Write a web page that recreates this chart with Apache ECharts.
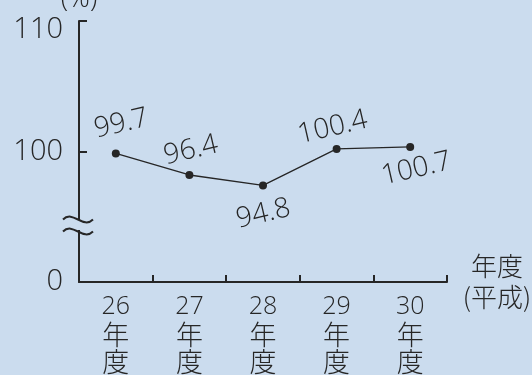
<!DOCTYPE html>
<html><head><meta charset="utf-8">
<script src="https://cdn.jsdelivr.net/npm/echarts@6/dist/echarts.min.js"></script>
<style>html,body{margin:0;padding:0;background:#cbdcee;} #c{width:532px;height:375px;}</style>
</head><body><div id="c"></div>
<script>
// ---- data ----
const categories = ['26年度', '27年度', '28年度', '29年度', '30年度'];
const values = [99.7, 96.4, 94.8, 100.4, 100.7];
const yTickLabels = ['0', '100', '110'];
const xAxisName = '年度\n(平成)';
const yAxisName = '(%)';

// ---- style ----
const BG = '#cbdcee';
const INK = '#262626';
const FONT = '"Open Sans", "Noto Sans CJK JP", sans-serif';
const CJK = '"Noto Sans CJK JP", sans-serif';
const labelPlace = [
  { position: 'top', offset: [10, -5] },
  { position: 'top', offset: [5, -1] },
  { position: 'bottom', offset: [-4, 5] },
  { position: 'top', offset: [-1, 1] },
  { position: 'bottom', offset: [3, 0] }
];

const chart = echarts.init(document.getElementById('c'), null, { renderer: 'canvas' });
const seriesData = values.map((v, i) => ({
  value: v,
  label: { position: labelPlace[i].position, offset: labelPlace[i].offset }
}));

chart.setOption({
  backgroundColor: BG,
  animation: false,
  grid: { left: 79, right: 85, top: 21, bottom: 93, containLabel: false, outerBoundsMode: 'none' },
  xAxis: {
    type: 'category',
    data: categories,
    boundaryGap: true,
    axisLine: { lineStyle: { color: INK, width: 2 } },
    axisTick: { show: true, inside: true, length: 7, interval: 0, lineStyle: { color: INK, width: 2 } },
    axisLabel: {
      interval: 0, margin: 11, color: INK, lineHeight: 27.5,
      formatter: s => '{n|' + s.slice(0, 2) + '}\n{c|' + s.slice(2, 3) + '}\n{c|' + s.slice(3) + '}',
      rich: {
        n: { fontSize: 25, fontFamily: FONT, fontWeight: 300, color: INK, lineHeight: 27.5 },
        c: { fontSize: 27, fontFamily: CJK, fontWeight: 300, color: INK, lineHeight: 27.5 }
      }
    },
    splitLine: { show: false },
    name: xAxisName,
    nameLocation: 'end',
    nameGap: 50,
    nameMoveOverlap: false,
    nameTextStyle: { color: INK, fontSize: 26, fontWeight: 300, lineHeight: 31, align: 'center', verticalAlign: 'middle', fontFamily: CJK }
  },
  yAxis: [
    {
      type: 'value', min: 0, max: 2, interval: 1,
      axisLine: { show: true, lineStyle: { color: INK, width: 2 } },
      axisTick: { show: true, inside: true, length: 8, lineStyle: { color: INK, width: 2 } },
      axisLabel: {
        margin: 16, color: INK, fontSize: 29, fontWeight: 300, lineHeight: 18, fontFamily: FONT,
        formatter: v => (v === 2 ? '\n' : '') + yTickLabels[Math.round(v)]
      },
      splitLine: { show: false },
      name: yAxisName,
      nameLocation: 'end',
      nameGap: 8,
      nameMoveOverlap: false,
      nameTextStyle: { color: INK, fontSize: 27, fontWeight: 300, align: 'center', verticalAlign: 'bottom', fontFamily: FONT }
    },
    { type: 'value', min: 80, max: 120, show: false }
  ],
  series: [{
    type: 'line',
    yAxisIndex: 1,
    data: seriesData,
    symbol: 'circle',
    symbolSize: 8,
    itemStyle: { color: INK },
    lineStyle: { color: INK, width: 1.3 },
    label: {
      show: true, rotate: 13, distance: 5, color: INK, fontSize: 28, fontWeight: 300, fontFamily: FONT
    },
    z: 5
  }],
  graphic: [
    { type: 'rect', shape: { x: 74, y: 220, width: 10, height: 10 }, style: { fill: BG }, z: 100 },
    { type: 'bezierCurve', shape: { x1: 63, y1: 219.5, cpx1: 73, cpy1: 209.5, cpx2: 83, cpy2: 229.5, x2: 93, y2: 219.5 },
      style: { stroke: INK, lineWidth: 2, fill: null }, z: 101 },
    { type: 'bezierCurve', shape: { x1: 63, y1: 231.5, cpx1: 73, cpy1: 221.5, cpx2: 83, cpy2: 241.5, x2: 93, y2: 231.5 },
      style: { stroke: INK, lineWidth: 2, fill: null }, z: 101 }
  ]
});
</script></body></html>
